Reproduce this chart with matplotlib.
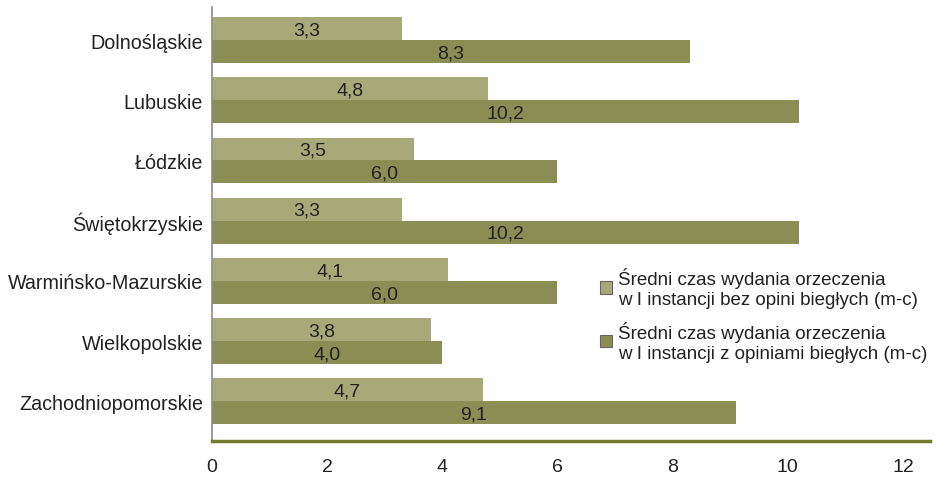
import matplotlib.pyplot as plt
from matplotlib.patches import Patch
import numpy as np

plt.rcParams['font.family'] = ['Liberation Sans', 'DejaVu Sans']

regions = ["Dolnośląskie", "Lubuskie", "Łódzkie", "Świętokrzyskie",
           "Warmińsko-Mazurskie", "Wielkopolskie", "Zachodniopomorskie"]
bez_opinii = [3.3, 4.8, 3.5, 3.3, 4.1, 3.8, 4.7]
z_opiniami = [8.3, 10.2, 6.0, 10.2, 6.0, 4.0, 9.1]
legend_labels = ["Średni czas wydania orzeczenia\nw I instancji bez opini biegłych (m-c)",
                 "Średni czas wydania orzeczenia\nw I instancji z opiniami biegłych (m-c)"]

light = "#a7aa78"
dark = "#8a8e55"

fig = plt.figure(figsize=(9.49, 4.81), dpi=100)
ax = fig.add_axes([212 / 949, 1 - 442 / 481, (930 - 212) / 949, (442 - 8) / 481])

y = np.arange(len(regions))
h = 0.38
b1 = ax.barh(y - h / 2, bez_opinii, height=h, color=light)
b2 = ax.barh(y + h / 2, z_opiniami, height=h, color=dark)

for bars, vals in ((b1, bez_opinii), (b2, z_opiniami)):
    for bar, v in zip(bars, vals):
        ax.text(v / 2, bar.get_y() + bar.get_height() / 2 + 0.02,
                f"{v:.1f}".replace(".", ","), ha="center", va="center",
                fontsize=14, color="#222222")

ax.set_ylim(len(regions) - 1 + 0.66, -0.55)
ax.set_xlim(0, 12.47)
ax.set_yticks(y)
ax.set_yticklabels(regions, fontsize=14.2, color="#222222")
ax.set_xticks(range(0, 13, 2))
ax.set_xticklabels([str(t) for t in range(0, 13, 2)], fontsize=14, color="#222222")
ax.tick_params(length=0)
ax.tick_params(axis="x", pad=12)
ax.tick_params(axis="y", pad=6.5)

for s in ("top", "right"):
    ax.spines[s].set_visible(False)
ax.spines["left"].set_color("#8c8c8c")
ax.spines["left"].set_linewidth(1.2)
ax.spines["bottom"].set_color("#737a30")
ax.spines["bottom"].set_linewidth(2.5)

handles = [Patch(facecolor=light, edgecolor="#666666", linewidth=0.8),
           Patch(facecolor=dark, edgecolor="#666666", linewidth=0.8)]
leg = ax.legend(handles, legend_labels, loc="upper left", bbox_to_anchor=(0.53, 0.418),
                frameon=False, fontsize=13.5, handlelength=0.65, handleheight=0.65,
                handletextpad=0.3, labelspacing=0.65, borderaxespad=0)
for t in leg.get_texts():
    t.set_linespacing(1.25)
    t.set_color("#222222")

fig.savefig("out.png", dpi=100)
